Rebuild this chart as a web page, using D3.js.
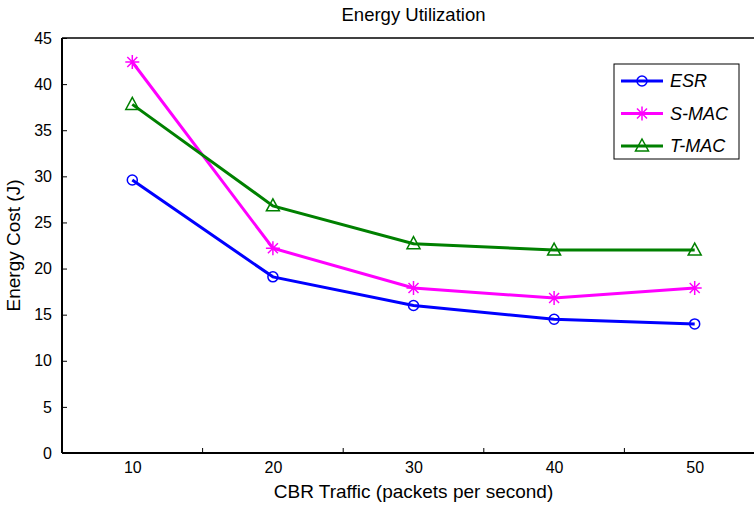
<!DOCTYPE html>
<html>
<head>
<meta charset="utf-8">
<script src="https://cdn.jsdelivr.net/npm/d3@7"></script>
<style>
  body { margin: 0; background: #fff; }
  text { font-family: "Liberation Sans", Arial, sans-serif; }
</style>
</head>
<body>
<svg id="chart"></svg>
<script>
// data
var traffic = [10, 20, 30, 40, 50];
var esr  = [29.6, 19.1, 16.0, 14.5, 14.0];
var smac = [42.4, 22.2, 17.9, 16.8, 17.9];
var tmac = [37.8, 26.8, 22.7, 22.0, 22.0];
var seriesNames = ["ESR", "S-MAC", "T-MAC"];
var xTickLabels = [10, 20, 30, 40, 50];
var xMinorTicks = [15, 25, 35, 45];
var yTicks = [0, 5, 10, 15, 20, 25, 30, 35, 40, 45];

var W = 754, H = 506;
var margin = {top: 38, right: -11, bottom: 53, left: 62};
var width = W - margin.left - margin.right;
var height = H - margin.top - margin.bottom;

var svg = d3.select("#chart").attr("width", W).attr("height", H);

var x = d3.scaleLinear().domain([5, 55]).range([0, width]);
var y = d3.scaleLinear().domain([0, 45]).range([height, 0]);

var g = svg.append("g")
    .attr("transform", "translate(" + margin.left + "," + margin.top + ")");

// box
g.append("line").attr("x1", 0).attr("x2", width).attr("y1", 0).attr("y2", 0)
    .attr("stroke", "#000").attr("stroke-width", 1.5);
g.append("line").attr("x1", 0).attr("x2", 0).attr("y1", 0).attr("y2", height)
    .attr("stroke", "#000").attr("stroke-width", 2);
g.append("line").attr("x1", 0).attr("x2", width).attr("y1", height).attr("y2", height)
    .attr("stroke", "#000").attr("stroke-width", 2);

// y axis
var yAxis = g.append("g")
    .call(d3.axisLeft(y).tickValues(yTicks).tickSizeInner(-5).tickSizeOuter(0).tickPadding(10));
yAxis.select(".domain").remove();
yAxis.selectAll("text").style("font-size", "16px").attr("fill", "#000");

// x axis: labels at 10..50, tick marks between them
var xAxis = g.append("g")
    .attr("transform", "translate(0," + height + ")")
    .call(d3.axisBottom(x).tickValues(xTickLabels).tickSize(0).tickPadding(9));
xAxis.select(".domain").remove();
xAxis.selectAll("text").style("font-size", "16px").attr("fill", "#000");

g.append("g").selectAll("line")
    .data(xMinorTicks)
  .enter().append("line")
    .attr("x1", function(d) { return x(d); })
    .attr("x2", function(d) { return x(d); })
    .attr("y1", height)
    .attr("y2", height - 5)
    .attr("stroke", "#000");

// titles
svg.append("text")
    .attr("x", margin.left + width / 2)
    .attr("y", 21)
    .attr("text-anchor", "middle")
    .style("font-size", "18.5px")
    .text("Energy Utilization");

svg.append("text")
    .attr("x", margin.left + width / 2)
    .attr("y", 498)
    .attr("text-anchor", "middle")
    .style("font-size", "19px")
    .text("CBR Traffic (packets per second)");

svg.append("text")
    .attr("transform", "translate(20," + (margin.top + height / 2) + ") rotate(-90)")
    .attr("text-anchor", "middle")
    .style("font-size", "19px")
    .text("Energy Cost (J)");

// series
var series = [
  {name: seriesNames[0], values: esr,  color: "#0000ff", marker: "circle"},
  {name: seriesNames[1], values: smac, color: "#ff00ff", marker: "star"},
  {name: seriesNames[2], values: tmac, color: "#008000", marker: "triangle"}
];

var line = d3.line()
    .x(function(d, i) { return x(traffic[i]); })
    .y(function(d) { return y(d); });

function drawMarker(sel, type, color) {
  if (type === "circle") {
    sel.append("circle").attr("r", 5)
        .attr("fill", "none").attr("stroke", color).attr("stroke-width", 1.5);
  } else if (type === "star") {
    var s = 7, d = 5;
    sel.append("path")
        .attr("d", "M" + (-s) + ",0H" + s + "M0," + (-s) + "V" + s +
                   "M" + (-d) + "," + (-d) + "L" + d + "," + d +
                   "M" + (-d) + "," + d + "L" + d + "," + (-d))
        .attr("fill", "none").attr("stroke", color).attr("stroke-width", 1.5);
  } else {
    sel.append("path")
        .attr("d", "M0,-7L6.5,5H-6.5Z")
        .attr("fill", "none").attr("stroke", color).attr("stroke-width", 1.5);
  }
}

series.forEach(function(s) {
  g.append("path")
      .datum(s.values)
      .attr("d", line)
      .attr("fill", "none")
      .attr("stroke", s.color)
      .attr("stroke-width", 3);

  g.selectAll(null)
      .data(s.values)
    .enter().append("g")
      .attr("transform", function(d, i) { return "translate(" + x(traffic[i]) + "," + y(d) + ")"; })
      .each(function() { drawMarker(d3.select(this), s.marker, s.color); });
});

// legend
var legend = svg.append("g").attr("transform", "translate(614,64)");
legend.append("rect")
    .attr("width", 125).attr("height", 95)
    .attr("fill", "#fff").attr("stroke", "#000").attr("stroke-width", 1);

var entry = legend.selectAll("g.entry")
    .data(series)
  .enter().append("g")
    .attr("class", "entry")
    .attr("transform", function(d, i) { return "translate(0," + (17 + i * 32.5) + ")"; });

entry.append("line")
    .attr("x1", 7).attr("x2", 49)
    .attr("stroke", function(d) { return d.color; })
    .attr("stroke-width", 3);
entry.append("g")
    .attr("transform", "translate(28,0)")
    .each(function(d) { drawMarker(d3.select(this), d.marker, d.color); });
entry.append("text")
    .attr("x", 56)
    .attr("dy", "0.35em")
    .style("font-size", "18px")
    .style("font-style", "italic")
    .text(function(d) { return d.name; });
</script>
</body>
</html>
